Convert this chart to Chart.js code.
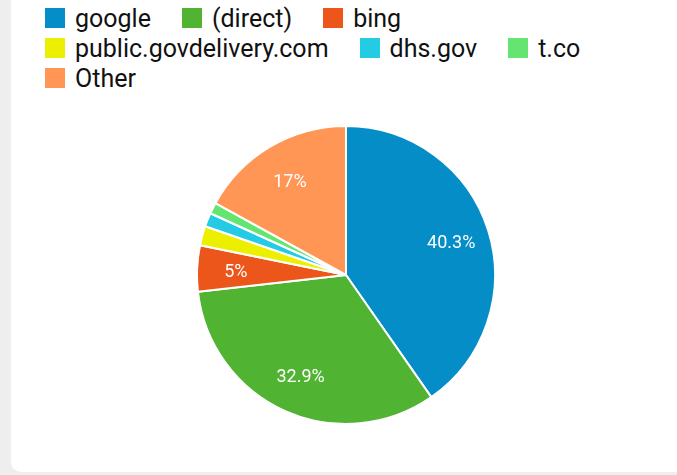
<!DOCTYPE html>
<html>
<head>
<meta charset="utf-8">
<script src="https://cdn.jsdelivr.net/npm/chart.js@4.4.1/dist/chart.umd.min.js"></script>
<style>
  html, body { margin: 0; padding: 0; background: #fff; width: 677px; height: 475px; overflow: hidden; }
  #side { position: absolute; left: 0; top: 0; width: 11px; height: 475px; background: #eeeeee; }
  #foot { position: absolute; left: 0; top: 462px; width: 1000px; height: 13px; background: #eeeeee; }
  #card { position: absolute; left: 11px; top: 440px; width: 1000px; height: 32px; background: #fff; border-radius: 0 0 0 10px; }
  #legend { position: absolute; left: 45px; top: 3px; width: 620px; display: flex; flex-wrap: wrap; font-family: Roboto, sans-serif; font-size: 25px; color: #111; }
  .item { display: flex; align-items: center; height: 30px; margin-right: 31px; white-space: nowrap; }
  .box { width: 20px; height: 20px; margin-right: 10px; }
  #wrap { position: absolute; left: 196px; top: 125px; width: 300px; height: 300px; }
</style>
</head>
<body>
<div id="side"></div>
<div id="foot"></div>
<div id="card"></div>
<div id="legend"></div>
<div id="wrap"><canvas id="pie"></canvas></div>
<script>
const sources = ['google', '(direct)', 'bing', 'public.govdelivery.com', 'dhs.gov', 't.co', 'Other'];
const shares = [40.3, 32.9, 5.0, 2.1, 1.5, 1.2, 17.0];
const shareLabels = ['40.3%', '32.9%', '5%', '', '', '', '17%'];
const colors = ['#058dc7', '#50b432', '#ed561b', '#edef00', '#24cbe5', '#64e572', '#ff9655'];

// legend as html, same order as the slices
const legend = document.getElementById('legend');
sources.forEach((name, i) => {
    const item = document.createElement('div');
    item.className = 'item';
    item.innerHTML = `<span class="box" style="background:${colors[i]}"></span><span>${name}</span>`;
    legend.appendChild(item);
});

const sliceLabels = {
    id: 'sliceLabels',
    afterDatasetsDraw(chart) {
        const ctx = chart.ctx;
        const arcs = chart.getDatasetMeta(0).data;
        ctx.save();
        ctx.fillStyle = '#fff';
        ctx.font = '18px Roboto, sans-serif';
        ctx.textAlign = 'center';
        ctx.textBaseline = 'middle';
        arcs.forEach((arc, i) => {
            if (!shareLabels[i]) return;
            const mid = (arc.startAngle + arc.endAngle) / 2;
            const r = arc.outerRadius * 0.74;
            ctx.fillText(shareLabels[i], arc.x + Math.cos(mid) * r, arc.y + Math.sin(mid) * r + 2);
        });
        ctx.restore();
    }
};

new Chart(document.getElementById('pie'), {
    type: 'pie',
    data: {
        labels: sources,
        datasets: [{
            data: shares,
            backgroundColor: colors,
            borderColor: '#fff',
            borderWidth: 2
        }]
    },
    options: {
        responsive: true,
        maintainAspectRatio: false,
        animation: false,
        plugins: {
            legend: { display: false },
            tooltip: { enabled: false }
        }
    },
    plugins: [sliceLabels]
});
</script>
</body>
</html>
